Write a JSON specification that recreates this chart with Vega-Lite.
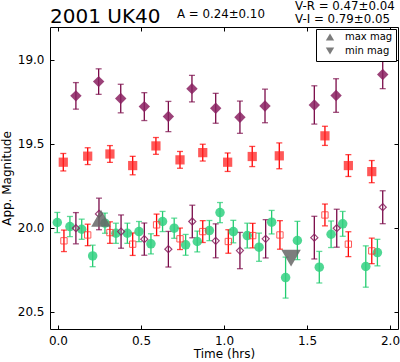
{
  "$schema": "https://vega.github.io/schema/vega-lite/v6.json",
  "width": 348,
  "height": 302,
  "autosize": {"type": "none"},
  "padding": {"left": 50, "top": 27, "right": 2, "bottom": 33},
  "config": {
    "font": "DejaVu Sans",
    "view": {"stroke": "black", "strokeWidth": 1},
    "axis": {"domain": false, "grid": false, "tickColor": "black", "tickSize": -4, "labelFontSize": 12, "labelColor": "black", "titleFontSize": 12, "titleFontWeight": "normal", "titleColor": "black", "labelFont": "DejaVu Sans", "titleFont": "DejaVu Sans"}
  },
  "datasets": {
    "obs": [
      {"series": "Vf", "t": 0.108, "mag": 19.214, "err": 0.079},
      {"series": "Vf", "t": 0.245, "mag": 19.129, "err": 0.076},
      {"series": "Vf", "t": 0.378, "mag": 19.230, "err": 0.085},
      {"series": "Vf", "t": 0.520, "mag": 19.278, "err": 0.083},
      {"series": "Vf", "t": 0.665, "mag": 19.337, "err": 0.090},
      {"series": "Vf", "t": 0.807, "mag": 19.171, "err": 0.079},
      {"series": "Vf", "t": 0.950, "mag": 19.288, "err": 0.089},
      {"series": "Vf", "t": 1.096, "mag": 19.341, "err": 0.096},
      {"series": "Vf", "t": 1.247, "mag": 19.274, "err": 0.100},
      {"series": "Vf", "t": 1.544, "mag": 19.268, "err": 0.114},
      {"series": "Vf", "t": 1.675, "mag": 19.212, "err": 0.100},
      {"series": "Vf", "t": 1.956, "mag": 19.087, "err": 0.084},
      {"series": "Rf", "t": 0.032, "mag": 19.609, "err": 0.052},
      {"series": "Rf", "t": 0.179, "mag": 19.573, "err": 0.050},
      {"series": "Rf", "t": 0.313, "mag": 19.560, "err": 0.050},
      {"series": "Rf", "t": 0.450, "mag": 19.629, "err": 0.055},
      {"series": "Rf", "t": 0.590, "mag": 19.512, "err": 0.050},
      {"series": "Rf", "t": 0.735, "mag": 19.595, "err": 0.050},
      {"series": "Rf", "t": 0.872, "mag": 19.552, "err": 0.050},
      {"series": "Rf", "t": 1.022, "mag": 19.609, "err": 0.055},
      {"series": "Rf", "t": 1.170, "mag": 19.575, "err": 0.060},
      {"series": "Rf", "t": 1.333, "mag": 19.571, "err": 0.077},
      {"series": "Rf", "t": 1.608, "mag": 19.452, "err": 0.057},
      {"series": "Rf", "t": 1.749, "mag": 19.629, "err": 0.065},
      {"series": "Rf", "t": 1.890, "mag": 19.665, "err": 0.066},
      {"series": "G", "t": -0.004, "mag": 19.968, "err": 0.060},
      {"series": "G", "t": 0.072, "mag": 19.992, "err": 0.060},
      {"series": "G", "t": 0.143, "mag": 20.008, "err": 0.060},
      {"series": "G", "t": 0.209, "mag": 20.167, "err": 0.064},
      {"series": "G", "t": 0.283, "mag": 19.972, "err": 0.060},
      {"series": "G", "t": 0.349, "mag": 20.032, "err": 0.060},
      {"series": "G", "t": 0.418, "mag": 20.032, "err": 0.060},
      {"series": "G", "t": 0.488, "mag": 20.022, "err": 0.060},
      {"series": "G", "t": 0.560, "mag": 20.095, "err": 0.060},
      {"series": "G", "t": 0.630, "mag": 19.962, "err": 0.060},
      {"series": "G", "t": 0.700, "mag": 20.002, "err": 0.060},
      {"series": "G", "t": 0.769, "mag": 20.101, "err": 0.062},
      {"series": "G", "t": 0.839, "mag": 20.081, "err": 0.062},
      {"series": "G", "t": 0.912, "mag": 20.016, "err": 0.060},
      {"series": "G", "t": 0.976, "mag": 19.909, "err": 0.060},
      {"series": "G", "t": 1.056, "mag": 20.022, "err": 0.067},
      {"series": "G", "t": 1.140, "mag": 20.046, "err": 0.074},
      {"series": "G", "t": 1.211, "mag": 20.115, "err": 0.084},
      {"series": "G", "t": 1.287, "mag": 19.966, "err": 0.070},
      {"series": "G", "t": 1.371, "mag": 20.296, "err": 0.122},
      {"series": "G", "t": 1.442, "mag": 20.075, "err": 0.114},
      {"series": "G", "t": 1.574, "mag": 20.234, "err": 0.094},
      {"series": "G", "t": 1.645, "mag": 20.038, "err": 0.079},
      {"series": "G", "t": 1.715, "mag": 19.976, "err": 0.074},
      {"series": "G", "t": 1.854, "mag": 20.230, "err": 0.123},
      {"series": "G", "t": 1.924, "mag": 20.147, "err": 0.079},
      {"series": "Ro", "t": 0.036, "mag": 20.077, "err": 0.064},
      {"series": "Ro", "t": 0.179, "mag": 20.042, "err": 0.064},
      {"series": "Ro", "t": 0.313, "mag": 20.028, "err": 0.064},
      {"series": "Ro", "t": 0.450, "mag": 20.097, "err": 0.067},
      {"series": "Ro", "t": 0.594, "mag": 19.982, "err": 0.064},
      {"series": "Ro", "t": 0.735, "mag": 20.065, "err": 0.064},
      {"series": "Ro", "t": 0.872, "mag": 20.022, "err": 0.065},
      {"series": "Ro", "t": 1.026, "mag": 20.081, "err": 0.070},
      {"series": "Ro", "t": 1.173, "mag": 20.046, "err": 0.073},
      {"series": "Ro", "t": 1.337, "mag": 20.042, "err": 0.085},
      {"series": "Ro", "t": 1.608, "mag": 19.923, "err": 0.065},
      {"series": "Ro", "t": 1.749, "mag": 20.097, "err": 0.074},
      {"series": "Ro", "t": 1.890, "mag": 20.137, "err": 0.076},
      {"series": "Vo", "t": 0.108, "mag": 20.002, "err": 0.093},
      {"series": "Vo", "t": 0.247, "mag": 19.917, "err": 0.094},
      {"series": "Vo", "t": 0.380, "mag": 20.022, "err": 0.099},
      {"series": "Vo", "t": 0.520, "mag": 20.067, "err": 0.096},
      {"series": "Vo", "t": 0.665, "mag": 20.127, "err": 0.106},
      {"series": "Vo", "t": 0.809, "mag": 19.962, "err": 0.097},
      {"series": "Vo", "t": 0.950, "mag": 20.077, "err": 0.101},
      {"series": "Vo", "t": 1.096, "mag": 20.135, "err": 0.108},
      {"series": "Vo", "t": 1.251, "mag": 20.065, "err": 0.114},
      {"series": "Vo", "t": 1.544, "mag": 20.058, "err": 0.127},
      {"series": "Vo", "t": 1.679, "mag": 20.002, "err": 0.113},
      {"series": "Vo", "t": 1.956, "mag": 19.877, "err": 0.098}
    ],
    "extrema": [
      {"label": "max mag", "t": 0.259, "mag": 19.943},
      {"label": "min mag", "t": 1.404, "mag": 20.18}
    ],
    "notes": [
      {"t": 0.717, "mag": 18.752, "label": "A  = 0.24±0.10"},
      {"t": 1.428, "mag": 18.700, "label": "V-R = 0.47±0.04"},
      {"t": 1.428, "mag": 18.781, "label": "V-I  = 0.79±0.05"}
    ],
    "heading": [
      {"t": -0.048, "mag": 18.781, "label": "2001 UK40"}
    ]
  },
  "layer": [
    {
      "data": {"name": "obs"},
      "mark": {"type": "errorbar", "ticks": {"size": 6, "thickness": 1.3}, "thickness": 1.3},
      "encoding": {
        "x": {"field": "t", "type": "quantitative", "scale": {"domain": [-0.048, 2.048], "nice": false, "zero": false}, "axis": {"values": [0, 0.5, 1, 1.5, 2], "format": ".1f", "title": "Time (hrs)", "labelPadding": 10, "titlePadding": 2}},
        "y": {"field": "mag", "type": "quantitative", "scale": {"domain": [18.804, 20.602], "reverse": true, "nice": false, "zero": false}, "axis": {"values": [19, 19.5, 20, 20.5], "format": ".1f", "title": "App. Magnitude", "labelPadding": 10, "titlePadding": 4}},
        "yError": {"field": "err"},
        "color": {"field": "series", "type": "nominal", "legend": null, "scale": {"domain": ["Vf", "Rf", "G", "Ro", "Vo"], "range": ["#7a0a48", "#ff0000", "#22cc70", "#ff0000", "#7a0a48"]}}
      }
    },
    {
      "data": {"name": "obs"},
      "transform": [{"filter": "datum.series == 'Vf'"}],
      "mark": {"type": "point", "shape": "diamond", "filled": true, "size": 130, "color": "#8a2060", "opacity": 0.85},
      "encoding": {
        "x": {"field": "t", "type": "quantitative", "axis": null},
        "y": {"field": "mag", "type": "quantitative", "axis": null}
      }
    },
    {
      "data": {"name": "obs"},
      "transform": [{"filter": "datum.series == 'Rf'"}],
      "mark": {"type": "point", "shape": "square", "filled": true, "size": 85, "color": "#ff2020", "opacity": 0.75},
      "encoding": {
        "x": {"field": "t", "type": "quantitative", "axis": null},
        "y": {"field": "mag", "type": "quantitative", "axis": null}
      }
    },
    {
      "data": {"name": "obs"},
      "transform": [{"filter": "datum.series == 'G'"}],
      "mark": {"type": "point", "shape": "circle", "filled": true, "size": 90, "color": "#30d080", "opacity": 0.85},
      "encoding": {
        "x": {"field": "t", "type": "quantitative", "axis": null},
        "y": {"field": "mag", "type": "quantitative", "axis": null}
      }
    },
    {
      "data": {"name": "obs"},
      "transform": [{"filter": "datum.series == 'Ro'"}],
      "mark": {"type": "point", "shape": "square", "filled": false, "size": 40, "color": "#ff3030", "opacity": 0.8, "strokeWidth": 1},
      "encoding": {
        "x": {"field": "t", "type": "quantitative", "axis": null},
        "y": {"field": "mag", "type": "quantitative", "axis": null}
      }
    },
    {
      "data": {"name": "obs"},
      "transform": [{"filter": "datum.series == 'Vo'"}],
      "mark": {"type": "point", "shape": "diamond", "filled": false, "size": 50, "color": "#8a2060", "opacity": 0.85, "strokeWidth": 1.2},
      "encoding": {
        "x": {"field": "t", "type": "quantitative", "axis": null},
        "y": {"field": "mag", "type": "quantitative", "axis": null}
      }
    },
    {
      "data": {"name": "extrema"},
      "mark": {"type": "point", "filled": true, "size": 380, "color": "#666666", "opacity": 0.85},
      "encoding": {
        "x": {"field": "t", "type": "quantitative", "axis": {"orient": "top", "values": [0, 0.5, 1, 1.5, 2], "labels": false, "title": null}},
        "y": {"field": "mag", "type": "quantitative", "axis": {"orient": "right", "values": [19, 19.5, 20, 20.5], "labels": false, "title": null}},
        "shape": {"field": "label", "type": "nominal", "scale": {"domain": ["max mag", "min mag"], "range": ["triangle-up", "triangle-down"]}, "legend": {"title": null, "orient": "top-right", "offset": 2, "padding": 3, "strokeColor": "black", "fillColor": "white", "labelFontSize": 10, "labelFont": "DejaVu Sans", "labelColor": "black", "symbolSize": 70, "symbolFillColor": "#777777", "symbolStrokeColor": "#777777", "rowPadding": 0, "symbolOffset": 6, "labelOffset": 10}}
      }
    },
    {
      "data": {"name": "notes"},
      "mark": {"type": "text", "align": "left", "baseline": "alphabetic", "fontSize": 11.8, "font": "DejaVu Sans", "color": "black"},
      "encoding": {
        "x": {"field": "t", "type": "quantitative", "axis": null},
        "y": {"field": "mag", "type": "quantitative", "axis": null},
        "text": {"field": "label"}
      }
    },
    {
      "data": {"name": "heading"},
      "mark": {"type": "text", "align": "left", "baseline": "alphabetic", "fontSize": 20, "font": "DejaVu Sans", "color": "black"},
      "encoding": {
        "x": {"field": "t", "type": "quantitative", "axis": null},
        "y": {"field": "mag", "type": "quantitative", "axis": null},
        "text": {"field": "label"}
      }
    }
  ],
  "resolve": {"axis": {"x": "independent", "y": "independent"}}
}
